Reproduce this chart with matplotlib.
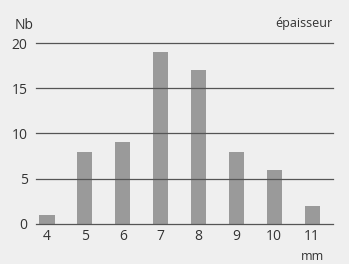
import matplotlib.pyplot as plt

thickness = [4, 5, 6, 7, 8, 9, 10, 11]
counts = [1, 8, 9, 19, 17, 8, 6, 2]
yticks = [0, 5, 10, 15, 20]

bg = '#efefef'
plt.rcParams['font.family'] = 'Open Sans'

fig = plt.figure(figsize=(3.49, 2.64), dpi=100, facecolor=bg)
ax = fig.add_axes([0.103, 0.152, 0.851, 0.685], facecolor=bg)

ax.bar(thickness, counts, width=0.4, color='#9a9a9a', zorder=2)
for y in yticks:
    ax.axhline(y, color='#555555', lw=0.9, zorder=3, clip_on=False)

ax.set_xlim(3.71, 11.55)
ax.set_ylim(0, 20)
ax.set_xticks(thickness)
ax.set_yticks(yticks)
ax.tick_params(length=0, labelsize=10, colors='#333333', pad=4)
ax.tick_params(axis='y', pad=6)
for s in ax.spines.values():
    s.set_visible(False)

fig.text(0.043, 0.905, 'Nb', fontsize=10, color='#333333', va='center')
fig.text(0.954, 0.912, 'épaisseur', fontsize=9, color='#333333', va='center', ha='right')
fig.text(0.895, 0.03, 'mm', fontsize=9, color='#333333', va='center', ha='center')

fig.savefig('out.png', dpi=100, facecolor=bg)
